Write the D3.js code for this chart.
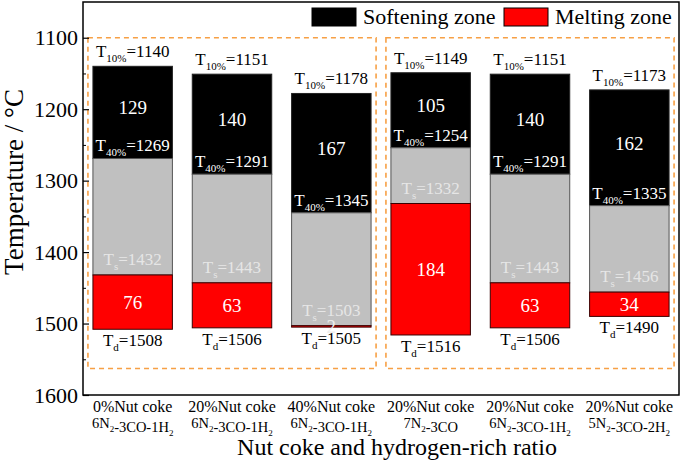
<!DOCTYPE html>
<html>
<head>
<meta charset="utf-8">
<script src="https://cdn.jsdelivr.net/npm/d3@7"></script>
<style>
  body { margin: 0; background: #fff; }
  svg text { font-family: "Liberation Serif", "Times New Roman", serif; }
</style>
</head>
<body>
<script>
// categories (two-line x labels, "_2" marks a subscript)
var groups = ['0%Nut coke', '20%Nut coke', '40%Nut coke', '20%Nut coke', '20%Nut coke', '20%Nut coke'];
var gases = ['6N_2-3CO-1H_2', '6N_2-3CO-1H_2', '6N_2-3CO-1H_2', '7N_2-3CO', '6N_2-3CO-1H_2', '5N_2-3CO-2H_2'];

// characteristic temperatures (°C)
var t10 = [1140, 1151, 1178, 1149, 1151, 1173];
var t40 = [1269, 1291, 1345, 1254, 1291, 1335];
var ts  = [1432, 1443, 1503, 1332, 1443, 1456];
var td  = [1508, 1506, 1505, 1516, 1506, 1490];

// zone widths printed in the bars
var softRange = [129, 140, 167, 105, 140, 162];
var meltRange = [76, 63, 2, 184, 63, 34];

var yTicks = [1100, 1200, 1300, 1400, 1500, 1600];
var yMinor = [1150, 1250, 1350, 1450, 1550];

var W = 685, H = 464;
var m = { left: 83, top: 2, right: 6, bottom: 69 };

var svg = d3.select('body').append('svg')
  .attr('width', W).attr('height', H)
  .attr('font-family', '"Liberation Serif", serif');

var x = d3.scaleBand()
  .domain(d3.range(groups.length))
  .range([m.left, W - m.right])
  .paddingInner(0.2)
  .paddingOuter(0.1);

var y = d3.scaleLinear()
  .domain([1050, 1600])
  .range([m.top, H - m.bottom]);

// dashed group boxes
[[0, 2], [3, 5]].forEach(function(g) {
  var x0 = x(g[0]) - 5, x1 = x(g[1]) + x.bandwidth() + 5;
  svg.append('rect')
    .attr('x', x0).attr('y', y(1100))
    .attr('width', x1 - x0).attr('height', y(1563) - y(1100))
    .attr('fill', 'none')
    .attr('stroke', '#f7a045')
    .attr('stroke-width', 1.6)
    .attr('stroke-dasharray', '5,4');
});

var idx = d3.range(groups.length);
var bars = svg.append('g');

function segment(lo, hi, fill, stroke) {
  bars.selectAll(null).data(idx).enter().append('rect')
    .attr('x', function(i) { return x(i); })
    .attr('width', x.bandwidth())
    .attr('y', function(i) { return y(lo[i]); })
    .attr('height', function(i) { return y(hi[i]) - y(lo[i]); })
    .attr('fill', fill)
    .attr('stroke', stroke)
    .attr('stroke-width', 1);
}
segment(t10, t40, '#000', '#222');
segment(t40, ts, '#c0c0c0', '#555');
segment(ts, td, '#ff0000', '#3a0000');

// label like T_sub=value
function subLabel(sub, val, yv, dy, color) {
  var t = svg.append('g').selectAll(null).data(idx).enter().append('text')
    .attr('x', function(i) { return x(i) + x.bandwidth() / 2; })
    .attr('y', function(i) { return y(yv[i]) + dy; })
    .attr('text-anchor', 'middle')
    .attr('font-size', 17)
    .attr('fill', color);
  t.append('tspan').text('T');
  t.append('tspan').attr('font-size', 11).attr('dy', 5).text(sub);
  t.append('tspan').attr('dy', -5).text(function(i) { return '=' + val[i]; });
}
subLabel('10%', t10, t10, -9, '#000');
subLabel('40%', t40, t40, -7, '#fff');
subLabel('s', ts, ts, -10, '#e6e6e6');
subLabel('d', td, td, 17, '#000');

// zone widths
svg.append('g').selectAll(null).data(idx).enter().append('text')
  .attr('x', function(i) { return x(i) + x.bandwidth() / 2; })
  .attr('y', function(i) { return (y(t10[i]) + y(t40[i])) / 2 + 2; })
  .attr('text-anchor', 'middle')
  .attr('font-size', 19)
  .attr('fill', '#fff')
  .text(function(i) { return softRange[i]; });

svg.append('g').selectAll(null).data(idx).enter().append('text')
  .attr('x', function(i) { return x(i) + x.bandwidth() / 2; })
  .attr('y', function(i) { return (y(ts[i]) + y(td[i])) / 2 + 7; })
  .attr('text-anchor', 'middle')
  .attr('font-size', 19)
  .attr('fill', function(i) { return meltRange[i] < 10 ? '#eee' : '#fff'; })
  .text(function(i) { return meltRange[i]; });

// frame
svg.append('rect')
  .attr('x', m.left).attr('y', m.top)
  .attr('width', W - m.left - m.right).attr('height', H - m.top - m.bottom)
  .attr('fill', 'none').attr('stroke', '#000').attr('stroke-width', 1.5);

// y axis with inward ticks
var yAxis = svg.append('g')
  .attr('transform', 'translate(' + m.left + ',0)')
  .call(d3.axisLeft(y).tickValues(yTicks).tickSize(-6).tickPadding(5).tickFormat(d3.format('d')));
yAxis.attr('font-family', null);
yAxis.select('.domain').remove();
yAxis.selectAll('text').attr('font-size', 22).attr('fill', '#000');
yAxis.selectAll('line').attr('stroke-width', 1.2);

svg.append('g')
  .attr('transform', 'translate(' + m.left + ',0)')
  .call(d3.axisLeft(y).tickValues(yMinor).tickSize(-3).tickFormat(''))
  .call(function(g) { g.select('.domain').remove(); });

// x labels
function subText(sel, str) {
  str.split(/(_\d)/).forEach(function(p) {
    if (!p) return;
    if (p[0] === '_') {
      sel.append('tspan').attr('font-size', 9).attr('dy', 4).text(p.slice(1));
      sel.append('tspan').attr('dy', -4).text('');
    } else {
      sel.append('tspan').text(p);
    }
  });
}
idx.forEach(function(i) {
  var cx = x(i) + x.bandwidth() / 2;
  svg.append('text')
    .attr('x', cx).attr('y', 412)
    .attr('text-anchor', 'middle').attr('font-size', 16)
    .text(groups[i]);
  var t = svg.append('text')
    .attr('x', cx).attr('y', 428)
    .attr('text-anchor', 'middle').attr('font-size', 14.5);
  subText(t, gases[i]);
});

// axis titles
svg.append('text')
  .attr('x', 397).attr('y', 455)
  .attr('text-anchor', 'middle').attr('font-size', 24)
  .text('Nut coke and hydrogen-rich ratio');

svg.append('text')
  .attr('transform', 'translate(23,182) rotate(-90)')
  .attr('text-anchor', 'middle').attr('font-size', 27)
  .text('Temperature / °C');

// legend
var legend = [
  { name: 'Softening zone', fill: '#000', x: 312 },
  { name: 'Melting zone', fill: '#ff0000', x: 504 }
];
var lg = svg.append('g').selectAll(null).data(legend).enter().append('g');
lg.append('rect')
  .attr('x', function(d) { return d.x; }).attr('y', 8)
  .attr('width', 44).attr('height', 18)
  .attr('fill', function(d) { return d.fill; })
  .attr('stroke', '#000').attr('stroke-width', 1);
lg.append('text')
  .attr('x', function(d) { return d.x + 51; }).attr('y', 24)
  .attr('font-size', 22)
  .text(function(d) { return d.name; });
</script>
</body>
</html>
